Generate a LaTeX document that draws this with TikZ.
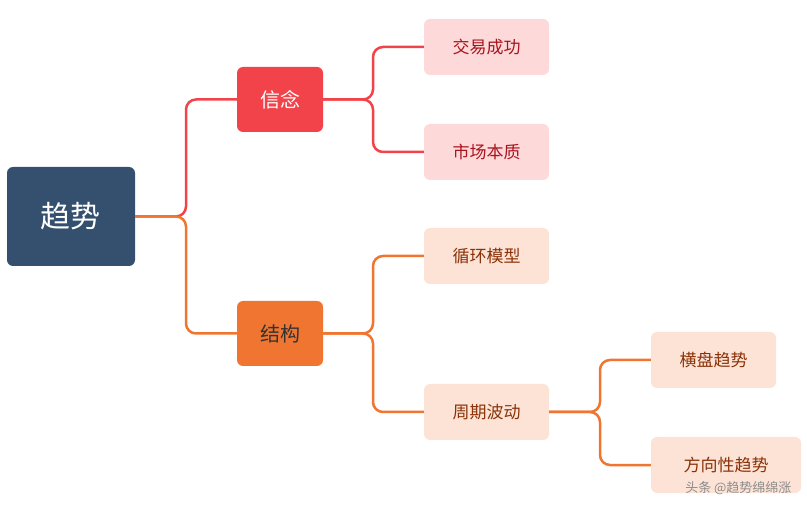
\documentclass[tikz,border=0pt]{standalone}
\usepackage{fontspec}
\setmainfont{Noto Sans CJK SC}
\definecolor{dk}{HTML}{34506E}
\definecolor{rd}{HTML}{F2434A}
\definecolor{org}{HTML}{F07530}
\definecolor{pk}{HTML}{FDD9D9}
\definecolor{pe}{HTML}{FDE3D5}
\definecolor{rt}{HTML}{A8141E}
\definecolor{ot}{HTML}{8A3208}
\begin{document}
\begin{tikzpicture}[x=1pt,y=-1pt,
  box/.style={rounded corners=6pt,minimum height=56pt,inner sep=0pt,font=\fontsize{17}{17}\selectfont},
  rl/.style={draw=rd,line width=2.5pt,rounded corners=10pt},
  ol/.style={draw=org,line width=2.5pt,rounded corners=10pt}]
\useasboundingbox (0,0) rectangle (807,513);
\node[box,fill=dk,text=white,minimum width=128pt,minimum height=99pt,font=\fontsize{30}{30}\selectfont] (q) at (71,216.5) {趋势};
\node[box,fill=rd,text=white,minimum width=86pt,minimum height=65pt,font=\fontsize{20}{20}\selectfont] (x) at (280,99.5) {信念};
\node[box,fill=org,text=black!80,minimum width=86pt,minimum height=65pt,font=\fontsize{20}{20}\selectfont] (j) at (280,333.5) {结构};
\node[box,fill=pk,text=rt,minimum width=125pt] (a) at (486.5,47) {交易成功};
\node[box,fill=pk,text=rt,minimum width=125pt] (b) at (486.5,152) {市场本质};
\node[box,fill=pe,text=ot,minimum width=125pt] (c) at (486.5,256) {循环模型};
\node[box,fill=pe,text=ot,minimum width=125pt] (d) at (486.5,412) {周期波动};
\node[box,fill=pe,text=ot,minimum width=125pt] (e) at (713.5,360) {横盘趋势};
\node[box,fill=pe,text=ot,minimum width=150pt] (f) at (726,465) {方向性趋势};
\draw[rl] (q.east) -- (186,216.5) |- (x.west);
\draw[ol] (q.east) -- (186,216.5) |- (j.west);
\draw[rl] (x.east) -- (373,99.5) |- (a.west);
\draw[rl] (x.east) -- (373,99.5) |- (b.west);
\draw[ol] (j.east) -- (373,333.5) |- (c.west);
\draw[ol] (j.east) -- (373,333.5) |- (d.west);
\draw[ol] (d.east) -- (600,412) |- (e.west);
\draw[ol] (d.east) -- (600,412) |- (f.west);
\node[text=black!45,font=\fontsize{13}{13}\selectfont,anchor=east] (w) at (795,488) {头条 @趋势绵绵涨};
\end{tikzpicture}
\end{document}
